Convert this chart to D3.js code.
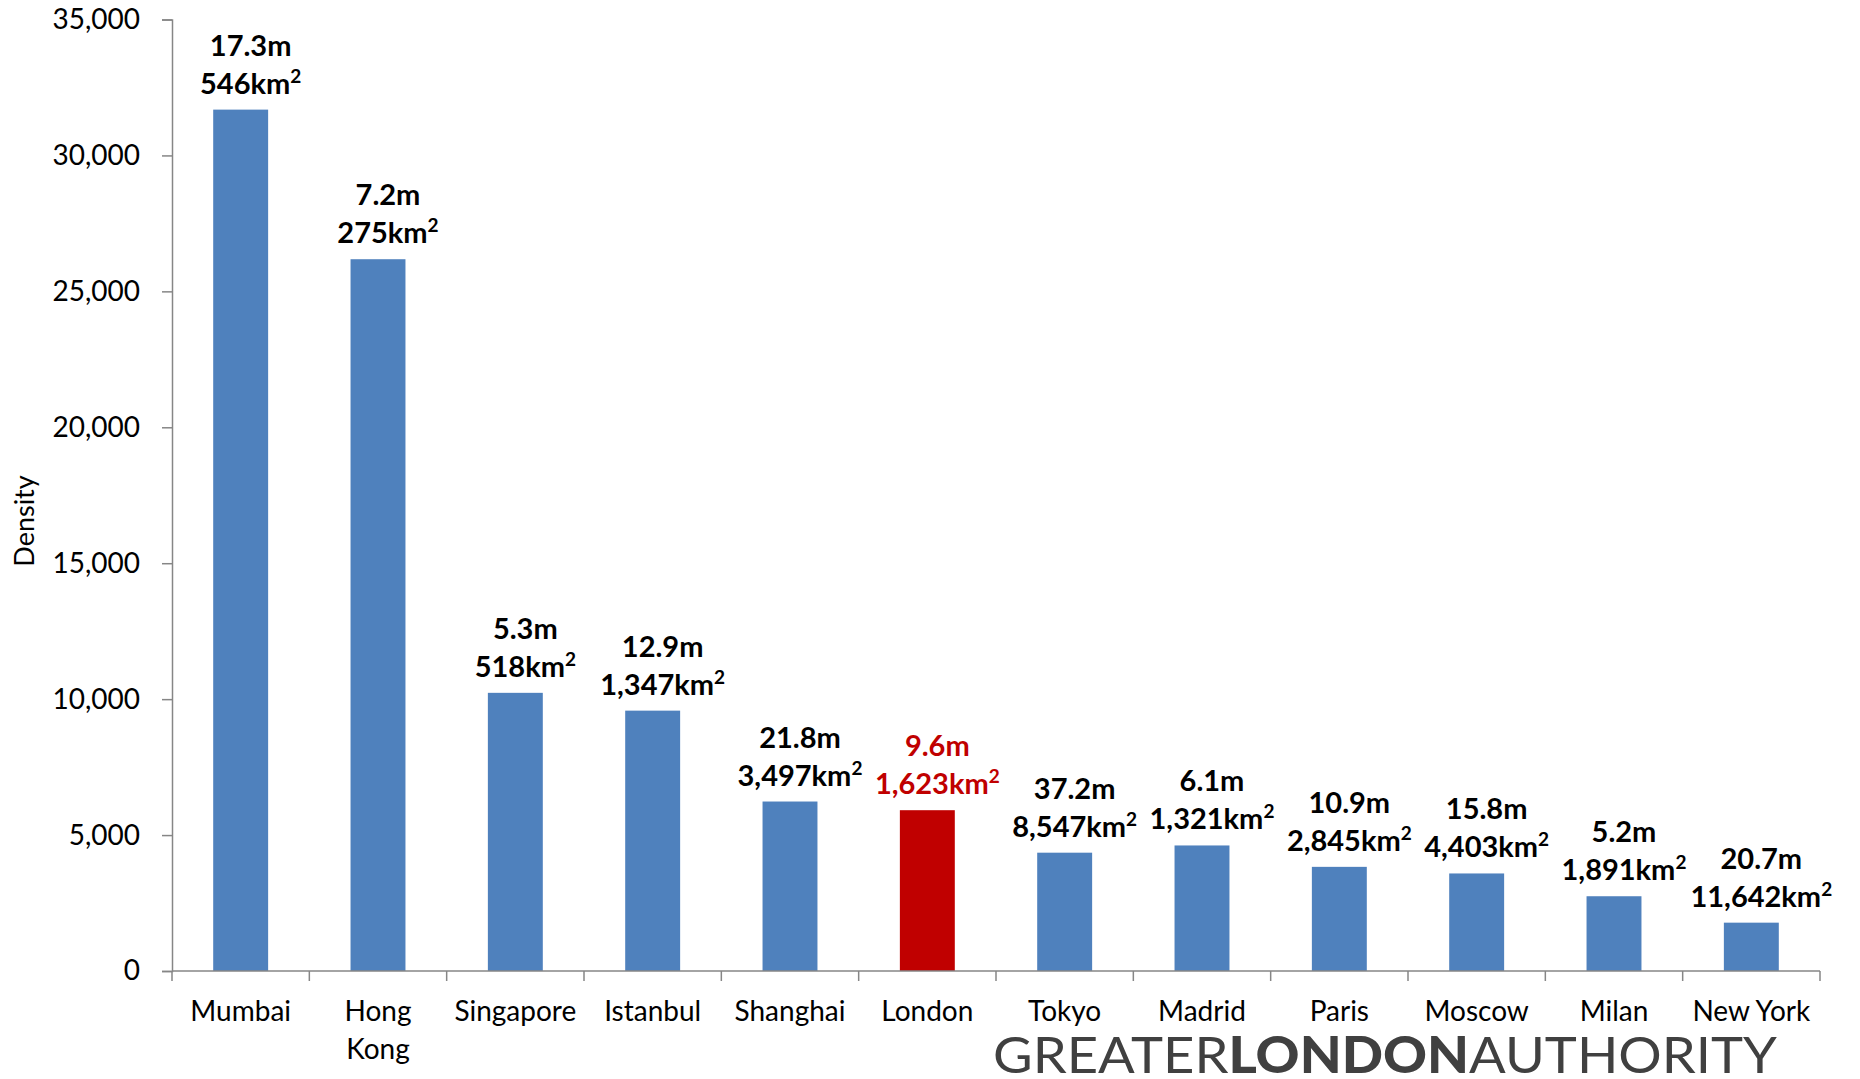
<!DOCTYPE html>
<html>
<head>
<meta charset="utf-8">
<script src="https://cdn.jsdelivr.net/npm/d3@7"></script>
<style>
  html, body { margin: 0; padding: 0; background: #fff; }
  svg { display: block; font-family: Lato, "Open Sans", sans-serif; }
</style>
</head>
<body>
<svg id="chart" width="1860" height="1079"></svg>
<script>
// City names, populations (millions), areas (km²) and resulting density (people per km²)
const cities = ["Mumbai", "Hong Kong", "Singapore", "Istanbul", "Shanghai", "London",
                "Tokyo", "Madrid", "Paris", "Moscow", "Milan", "New York"];
const cityLabels = ["Mumbai", "Hong\nKong", "Singapore", "Istanbul", "Shanghai", "London",
                    "Tokyo", "Madrid", "Paris", "Moscow", "Milan", "New York"];
const population = ["17.3", "7.2", "5.3", "12.9", "21.8", "9.6", "37.2", "6.1", "10.9", "15.8", "5.2", "20.7"];
const area = ["546", "275", "518", "1,347", "3,497", "1,623", "8,547", "1,321", "2,845", "4,403", "1,891", "11,642"];
const density = [31685, 26182, 10232, 9577, 6234, 5915, 4352, 4618, 3831, 3588, 2750, 1778];
const yTicks = [0, 5000, 10000, 15000, 20000, 25000, 30000, 35000];
const highlight = "London";

const svg = d3.select("#chart");
const plotLeft = 172, plotRight = 1820, plotTop = 19.5, plotBottom = 971;
const blue = "#4F81BD", red = "#C00000", axisColor = "#868686";

const x = d3.scaleBand().domain(cities).range([plotLeft, plotRight]).paddingInner(0.6).paddingOuter(0.3);
const y = d3.scaleLinear().domain([0, 35000]).range([plotBottom, plotTop]);
const step = x.step();

// Bars
svg.append("g").selectAll("rect")
  .data(cities)
  .join("rect")
  .attr("x", d => x(d))
  .attr("width", x.bandwidth())
  .attr("y", (d, i) => y(density[i]))
  .attr("height", (d, i) => y(0) - y(density[i]))
  .attr("fill", d => d === highlight ? red : blue);

// Y axis
const yAxis = svg.append("g")
  .attr("transform", `translate(${plotLeft},0)`)
  .call(d3.axisLeft(y).tickValues(yTicks).tickFormat(d3.format(",")).tickSize(10).tickPadding(22));
yAxis.select(".domain").attr("stroke", axisColor).attr("stroke-width", 1.5);
yAxis.selectAll(".tick line").attr("stroke", axisColor).attr("stroke-width", 1.5);
yAxis.selectAll(".tick text")
  .attr("font-size", 28).attr("fill", "#000").attr("font-family", "Lato, sans-serif");

// X axis line with ticks at category boundaries
const xg = svg.append("g");
xg.append("line")
  .attr("x1", plotLeft).attr("x2", plotRight).attr("y1", plotBottom).attr("y2", plotBottom)
  .attr("stroke", axisColor).attr("stroke-width", 1.5);
const boundaries = d3.range(cities.length + 1).map(i => plotLeft + i * step);
xg.selectAll("line.tick")
  .data(boundaries)
  .join("line")
  .attr("class", "tick")
  .attr("x1", d => d).attr("x2", d => d)
  .attr("y1", plotBottom).attr("y2", plotBottom + 10)
  .attr("stroke", axisColor).attr("stroke-width", 1.5);

// Category labels
const catText = svg.append("g").selectAll("text")
  .data(cities)
  .join("text")
  .attr("x", d => x(d) + x.bandwidth() / 2)
  .attr("y", 1021)
  .attr("text-anchor", "middle")
  .attr("font-size", 28)
  .attr("fill", "#000");
catText.each(function(d, i) {
  const lines = cityLabels[i].split("\n");
  d3.select(this).selectAll("tspan")
    .data(lines)
    .join("tspan")
    .attr("x", x(d) + x.bandwidth() / 2)
    .attr("dy", (l, j) => j === 0 ? 0 : 38)
    .text(l => l);
});

// Data labels: population and area above each bar
const labels = svg.append("g").selectAll("text")
  .data(cities)
  .join("text")
  .attr("text-anchor", "middle")
  .attr("font-size", 29)
  .attr("font-weight", 700)
  .attr("fill", d => d === highlight ? red : "#000");
labels.each(function(d, i) {
  const cx = x(d) + x.bandwidth() / 2 + 10;
  const yTop = y(density[i]);
  const t = d3.select(this);
  t.append("tspan").attr("x", cx).attr("y", yTop - 54).text(population[i] + "m");
  t.append("tspan").attr("x", cx).attr("y", yTop - 16).text(area[i] + "km");
  t.append("tspan").attr("font-size", 19).attr("dy", -11).text("2");
});

// Y axis title
svg.append("text")
  .attr("transform", "translate(34,521) rotate(-90)")
  .attr("text-anchor", "middle")
  .attr("font-size", 27)
  .attr("fill", "#000")
  .text("Density");

// Logo wordmark
const logo = svg.append("text")
  .attr("x", 993).attr("y", 1073)
  .attr("font-size", 51)
  .attr("fill", "#404040")
  .attr("font-family", "Lato, sans-serif")
  .attr("textLength", 784)
  .attr("lengthAdjust", "spacingAndGlyphs");
logo.append("tspan").attr("font-weight", 400).text("GREATER");
logo.append("tspan").attr("font-weight", 900).text("LONDON");
logo.append("tspan").attr("font-weight", 400).text("AUTHORITY");
</script>
</body>
</html>
